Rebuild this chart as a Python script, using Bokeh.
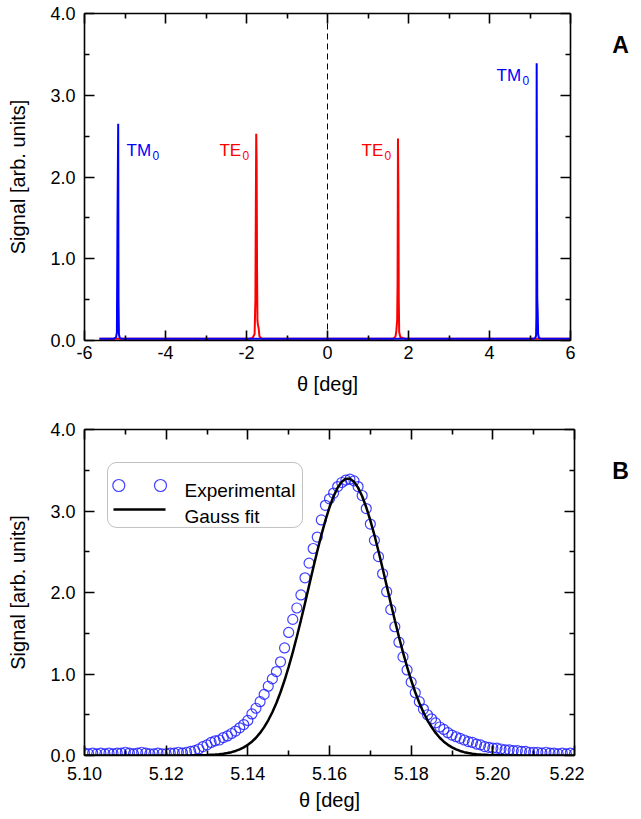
from bokeh.plotting import figure
from bokeh.models import (LinearAxis, FixedTicker, NumeralTickFormatter, Span, Label,
                          BoxAnnotation, Range1d, ColumnDataSource, CustomLabelingPolicy)
from bokeh.layouts import column, row
from bokeh.embed import file_html
from bokeh.resources import INLINE

# ---------------- data: panel A (overview scan) ----------------
te_theta = [-5.63, -1.95, -1.85, -1.80, -1.78, -1.77, -1.76, -1.75, -1.74, -1.73, -1.72, -1.70, -1.68, -1.62,
            0.0, 1.62, 1.68, 1.70, 1.72, 1.73, 1.74, 1.75, 1.76, 1.77, 1.80, 1.85, 1.95, 6.0]
te_signal = [0.02, 0.02, 0.03, 0.08, 0.50, 1.60, 2.53, 2.20, 0.90, 0.25, 0.20, 0.15, 0.05, 0.02,
             0.02, 0.02, 0.05, 0.12, 0.25, 0.70, 2.47, 1.90, 0.50, 0.10, 0.04, 0.03, 0.02, 0.02]

tm_theta = [-5.63, -5.28, -5.22, -5.20, -5.185, -5.175, -5.168, -5.16, -5.15, -5.13, -5.08,
            0.0, 5.08, 5.13, 5.15, 5.158, 5.165, 5.172, 5.18, 5.19, 5.20, 5.22, 5.28, 6.0]
tm_signal = [0.02, 0.02, 0.04, 0.10, 1.50, 2.20, 2.65, 0.50, 0.08, 0.03, 0.02,
             0.02, 0.02, 0.03, 0.06, 0.30, 3.39, 1.60, 0.50, 0.35, 0.08, 0.03, 0.02, 0.02]

# ---------------- data: panel B (TM0 peak zoom) ----------------
theta_b = [
    5.100, 5.101, 5.102, 5.103, 5.104, 5.105, 5.106, 5.107, 5.108, 5.109,
    5.110, 5.111, 5.112, 5.113, 5.114, 5.115, 5.116, 5.117, 5.118, 5.119,
    5.120, 5.121, 5.122, 5.123, 5.124, 5.125, 5.126, 5.127, 5.128, 5.129,
    5.130, 5.131, 5.132, 5.133, 5.134, 5.135, 5.136, 5.137, 5.138, 5.139,
    5.140, 5.141, 5.142, 5.143, 5.144, 5.145, 5.146, 5.147, 5.148, 5.149,
    5.150, 5.151, 5.152, 5.153, 5.154, 5.155, 5.156, 5.157, 5.158, 5.159,
    5.160, 5.161, 5.162, 5.163, 5.164, 5.165, 5.166, 5.167, 5.168, 5.169,
    5.170, 5.171, 5.172, 5.173, 5.174, 5.175, 5.176, 5.177, 5.178, 5.179,
    5.180, 5.181, 5.182, 5.183, 5.184, 5.185, 5.186, 5.187, 5.188, 5.189,
    5.190, 5.191, 5.192, 5.193, 5.194, 5.195, 5.196, 5.197, 5.198, 5.199,
    5.200, 5.201, 5.202, 5.203, 5.204, 5.205, 5.206, 5.207, 5.208, 5.209,
    5.210, 5.211, 5.212, 5.213, 5.214, 5.215, 5.216, 5.217, 5.218, 5.219,
    5.220]

experimental = [
    0.03, 0.02, 0.03, 0.02, 0.03, 0.02, 0.03, 0.02, 0.03, 0.03,
    0.04, 0.03, 0.02, 0.03, 0.04, 0.03, 0.02, 0.02, 0.03, 0.02,
    0.02, 0.03, 0.03, 0.04, 0.03, 0.04, 0.05, 0.06, 0.08, 0.11,
    0.13, 0.16, 0.18, 0.19, 0.22, 0.24, 0.27, 0.30, 0.34, 0.38,
    0.43, 0.51, 0.58, 0.66, 0.75, 0.85, 0.94, 1.03, 1.15, 1.32,
    1.51, 1.67, 1.81, 1.97, 2.18, 2.36, 2.54, 2.68, 2.89, 3.07,
    3.15, 3.22, 3.30, 3.35, 3.38, 3.39, 3.37, 3.30, 3.19, 3.03,
    2.84, 2.64, 2.44, 2.23, 2.01, 1.79, 1.58, 1.39, 1.21, 1.05,
    0.90, 0.77, 0.66, 0.57, 0.50, 0.45, 0.40, 0.35, 0.32, 0.28,
    0.25, 0.23, 0.21, 0.19, 0.17, 0.16, 0.14, 0.13, 0.11, 0.10,
    0.09, 0.09, 0.08, 0.07, 0.07, 0.06, 0.06, 0.05, 0.05, 0.04,
    0.04, 0.04, 0.03, 0.04, 0.03, 0.03, 0.02, 0.03, 0.02, 0.03,
    0.02]

gauss_fit = [
    0.0, 0.0, 0.0, 0.0, 0.0, 0.0, 0.0, 0.0, 0.0, 0.0,
    0.0, 0.0, 0.0, 0.0, 0.0, 0.0, 0.0, 0.0, 0.0, 0.0,
    0.0, 0.0, 0.0, 0.0, 0.0, 0.001, 0.001, 0.002, 0.002, 0.004,
    0.005, 0.008, 0.011, 0.016, 0.022, 0.030, 0.041, 0.056, 0.075, 0.100,
    0.131, 0.170, 0.218, 0.277, 0.348, 0.432, 0.531, 0.645, 0.776, 0.923,
    1.087, 1.265, 1.457, 1.659, 1.869, 2.084, 2.297, 2.506, 2.704, 2.885,
    3.046, 3.181, 3.287, 3.359, 3.395, 3.395, 3.359, 3.287, 3.181, 3.046,
    2.885, 2.704, 2.506, 2.297, 2.084, 1.869, 1.659, 1.457, 1.265, 1.087,
    0.923, 0.776, 0.645, 0.531, 0.432, 0.348, 0.277, 0.218, 0.170, 0.131,
    0.100, 0.075, 0.056, 0.041, 0.030, 0.022, 0.016, 0.011, 0.008, 0.005,
    0.004, 0.002, 0.002, 0.001, 0.001, 0.0, 0.0, 0.0, 0.0, 0.0,
    0.0, 0.0, 0.0, 0.0, 0.0, 0.0, 0.0, 0.0, 0.0, 0.0,
    0.0]

# tick definitions
xticks_a = [-6, -4, -2, 0, 2, 4, 6]
xminor_a = [-5, -3, -1, 1, 3, 5]
xticks_b = [5.10, 5.12, 5.14, 5.16, 5.18, 5.20, 5.22]
xminor_b = [5.11, 5.13, 5.15, 5.17, 5.19, 5.21]
yticks = [0.0, 1.0, 2.0, 3.0, 4.0]
yminor = [0.5, 1.5, 2.5, 3.5]

FONT = "Liberation Sans"
TICK_SIZE = "18px"
LABEL_SIZE = "20px"

NO_LABELS = """
const drop = [];
for (const i of indices) drop.push(i);
for (const i of drop) indices.unset(i);
return indices;
"""


def style_axis(ax, ticks, minor, fmt, labels=True):
    ax.ticker = FixedTicker(ticks=ticks, minor_ticks=minor)
    ax.formatter = fmt
    ax.axis_line_color = "black"
    ax.axis_line_width = 1.6
    ax.major_tick_line_color = "black"
    ax.major_tick_line_width = 1.6
    ax.minor_tick_line_color = "black"
    ax.minor_tick_line_width = 1.6
    ax.major_tick_in = 10
    ax.major_tick_out = 0
    ax.minor_tick_in = 5
    ax.minor_tick_out = 0
    if labels:
        ax.major_label_text_font = FONT
        ax.major_label_text_font_size = TICK_SIZE
        ax.major_label_text_color = "black"
        ax.axis_label_text_font = FONT
        ax.axis_label_text_font_size = LABEL_SIZE
        ax.axis_label_text_font_style = "normal"
        ax.axis_label_text_color = "black"
    else:
        ax.major_label_policy = CustomLabelingPolicy(code=NO_LABELS)
        ax.major_label_text_font_size = "0px"
        ax.major_label_standoff = 0
        ax.axis_label = None


def make_panel(xr, xticks, xminor, xfmt, fw, fh, top, right, bottom, xlab_stand, xaxis_stand):
    p = figure(x_range=xr, y_range=Range1d(0, 4), frame_width=fw, frame_height=fh,
               output_backend="svg", toolbar_location=None,
               min_border_left=84, min_border_right=right, min_border_top=top,
               min_border_bottom=bottom, background_fill_color="white",
               border_fill_color="white")
    p.outline_line_color = None
    p.xgrid.visible = False
    p.ygrid.visible = False
    bx = p.xaxis[0]
    ly = p.yaxis[0]
    style_axis(bx, xticks, xminor, xfmt)
    style_axis(ly, yticks, yminor, NumeralTickFormatter(format="0.0"))
    bx.axis_label = "θ [deg]"
    bx.major_label_standoff = xlab_stand
    bx.axis_label_standoff = xaxis_stand
    ly.axis_label = "Signal [arb. units]"
    ly.major_label_standoff = 9
    ly.axis_label_standoff = 18
    ta = LinearAxis()
    style_axis(ta, xticks, xminor, xfmt, labels=False)
    ra = LinearAxis()
    style_axis(ra, yticks, yminor, NumeralTickFormatter(format="0.0"), labels=False)
    p.add_layout(ta, "above")
    p.add_layout(ra, "right")
    return p


def letter_panel(letter, w, h, x, y):
    f = figure(frame_width=w, frame_height=h, x_range=Range1d(0, w), y_range=Range1d(0, h),
               output_backend="svg", toolbar_location=None, x_axis_type=None, y_axis_type=None,
               min_border=0, background_fill_color="white", border_fill_color="white")
    f.outline_line_color = None
    f.add_layout(Label(x=x, y=y, text=letter, text_font=FONT, text_font_size="23px",
                       text_font_style="bold", text_color="black", text_align="center",
                       text_baseline="alphabetic"))
    return f


# ---------------- panel A ----------------
HA = 13 + 327 + 65
pA = make_panel(Range1d(-6, 6), xticks_a, xminor_a, NumeralTickFormatter(format="0"),
                486, 327, 13, 10, 65, 5, 11)

pA.add_layout(Span(location=0, dimension="height", line_color="black",
                   line_width=1, line_dash="6 4"))

pA.line(te_theta, te_signal, line_color="#ff0000", line_width=2)
pA.line(tm_theta, tm_signal, line_color="#0000ff", line_width=2)


def mode_label(p, x, y, base, sub, color, subdx, subdy):
    p.add_layout(Label(x=x, y=y, text=base, text_color=color, text_font=FONT,
                       text_font_size="17px", text_align="left", text_baseline="alphabetic"))
    p.add_layout(Label(x=x, y=y, x_offset=subdx, y_offset=subdy, text=sub, text_color=color,
                       text_font=FONT, text_font_size="12px", text_align="left",
                       text_baseline="alphabetic"))


mode_label(pA, -4.963, 2.324, "TM", "0", "#0000ff", 26, -5)
mode_label(pA, -2.667, 2.324, "TE", "0", "#ff0000", 23, -5)
mode_label(pA, 0.840, 2.324, "TE", "0", "#ff0000", 23, -5)
mode_label(pA, 4.173, 3.242, "TM", "0", "#0000ff", 26, -5)

fA = letter_panel("A", 50, HA, 40, HA - 31)

# ---------------- panel B ----------------
HB = 24 + 326 + 62
pB = make_panel(Range1d(5.10, 5.22), xticks_b, xminor_b, NumeralTickFormatter(format="0.00"),
                490, 326, 24, 10, 62, 11, 6)

src = ColumnDataSource(data=dict(theta=theta_b, exp=experimental, fit=gauss_fit))
pB.scatter("theta", "exp", source=src, marker="circle", size=10, fill_color=None,
           line_color="#2020ff", line_alpha=0.85, line_width=1.2)
pB.line("theta", "fit", source=src, line_color="black", line_width=2.5)

# legend box (Origin style: two symbols for the scatter series)
pB.add_layout(BoxAnnotation(left=5.10563, right=5.15339, top=3.595, bottom=2.798,
                            fill_color="white", fill_alpha=1.0, line_color="#333333",
                            line_width=1, border_radius=9, level="underlay"))
pB.scatter([5.10840, 5.11861], [3.313, 3.313], marker="circle", size=12, fill_color=None,
           line_color="#2020ff", line_alpha=0.85, line_width=1.2)
pB.line([5.10710, 5.11984], [3.018, 3.018], line_color="black", line_width=2.5)
pB.add_layout(Label(x=5.12449, y=3.252, text="Experimental", text_font=FONT,
                    text_font_size="19px", text_color="black", text_baseline="alphabetic"))
pB.add_layout(Label(x=5.12449, y=2.933, text="Gauss fit", text_font=FONT,
                    text_font_size="19px", text_color="black", text_baseline="alphabetic"))

fB = letter_panel("B", 50, HB, 36, HB - 41)

layout = column(row(pA, fA, spacing=0), row(pB, fB, spacing=0), spacing=0)
open("out.html", "w").write(file_html(layout, INLINE))
